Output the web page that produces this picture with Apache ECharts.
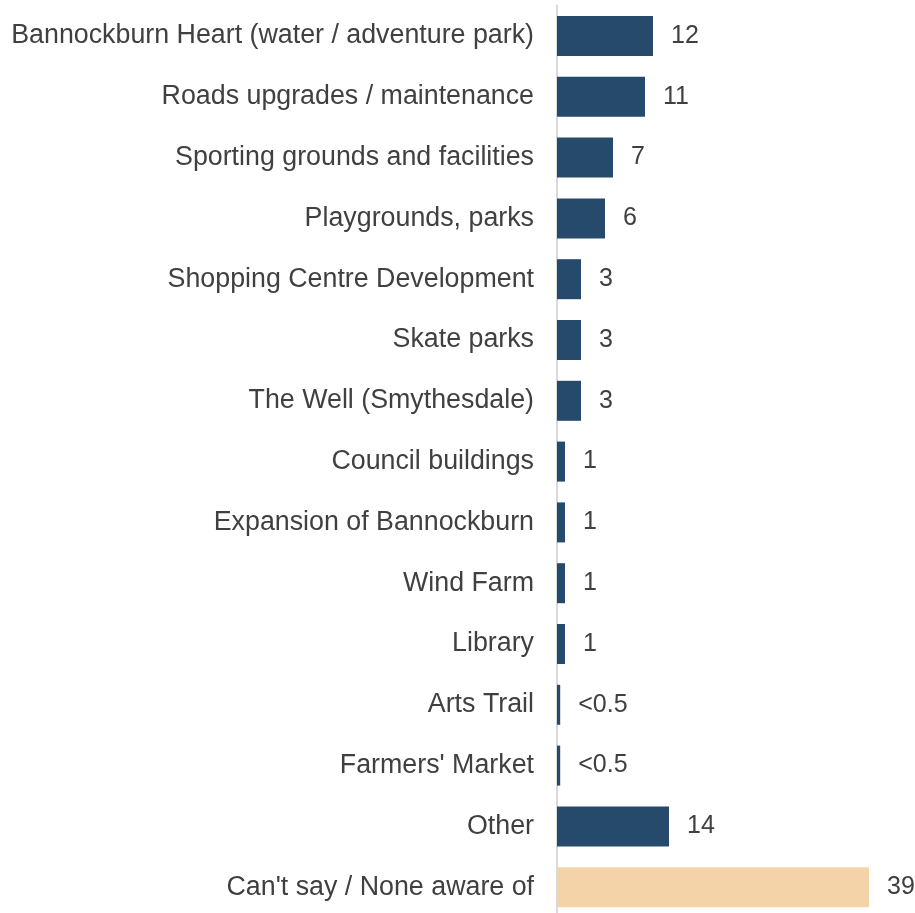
<!DOCTYPE html>
<html>
<head>
<meta charset="utf-8">
<script src="https://cdn.jsdelivr.net/npm/echarts@6/dist/echarts.min.js"></script>
<style>
  html, body { margin: 0; padding: 0; background: #fff; overflow: hidden; }
</style>
</head>
<body>
<div id="chart" style="width:915px;height:920px"></div>
<script>
// categories top to bottom
var categories = [
  'Bannockburn Heart (water / adventure park)',
  'Roads upgrades / maintenance',
  'Sporting grounds and facilities',
  'Playgrounds, parks',
  'Shopping Centre Development',
  'Skate parks',
  'The Well (Smythesdale)',
  'Council buildings',
  'Expansion of Bannockburn',
  'Wind Farm',
  'Library',
  'Arts Trail',
  "Farmers' Market",
  'Other',
  "Can't say / None aware of"
];
var values = [12, 11, 7, 6, 3, 3, 3, 1, 1, 1, 1, 0.4, 0.4, 14, 39];
var valueLabels = ['12', '11', '7', '6', '3', '3', '3', '1', '1', '1', '1', '<0.5', '<0.5', '14', '39'];

var navy = '#264A6C';
var peach = '#F5D3A8';

var chart = echarts.init(document.getElementById('chart'));

var barData = values.map(function (v, i) {
  return {
    value: v,
    itemStyle: { color: i === values.length - 1 ? peach : navy }
  };
});

chart.setOption({
  animation: false,
  grid: { left: 557, width: 312, top: 5.6, height: 912 },
  xAxis: {
    type: 'value',
    min: 0,
    max: 39,
    show: false
  },
  yAxis: {
    type: 'category',
    inverse: true,
    data: categories,
    axisLine: { show: true, lineStyle: { color: '#DADADA', width: 2 } },
    axisTick: { show: false },
    axisLabel: {
      color: '#404040',
      fontSize: 26.8,
      fontFamily: 'Liberation Sans, Arial, sans-serif',
      margin: 23,
      padding: [3, 0, 0, 0]
    }
  },
  series: [{
    type: 'bar',
    data: barData,
    barWidth: 40,
    label: {
      show: true,
      position: 'right',
      distance: 18,
      color: '#404040',
      fontSize: 25,
      fontFamily: 'Liberation Sans, Arial, sans-serif',
      padding: [3, 0, 0, 0],
      formatter: function (p) { return valueLabels[p.dataIndex]; }
    }
  }]
});
</script>
</body>
</html>
